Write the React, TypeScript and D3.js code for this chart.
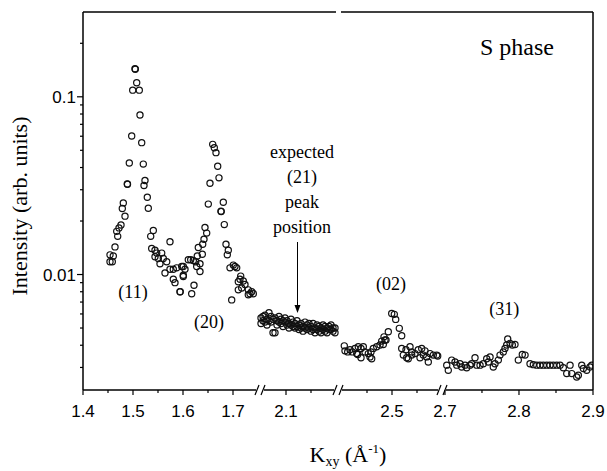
import React from 'react';
import * as d3 from 'd3';

// ---------- data (K_xy in Å^-1, intensity in arb. units) ----------
const peaks11and20: [number, number][] = [
  [1.454, 0.0129], [1.454, 0.0118], [1.4586, 0.0118], [1.4606, 0.0127], [1.464, 0.0143],
  [1.4674, 0.0175], [1.4694, 0.0164], [1.472, 0.0183], [1.476, 0.019], [1.4786, 0.0235],
  [1.4806, 0.0253], [1.484, 0.0213], [1.4886, 0.0323], [1.4890, 0.0322], [1.4926, 0.0424],
  [1.4974, 0.0602], [1.4994, 0.109], [1.504, 0.144], [1.5046, 0.143], [1.5074, 0.12],
  [1.5126, 0.109], [1.514, 0.079], [1.5174, 0.0552], [1.5206, 0.0418], [1.522, 0.0317],
  [1.524, 0.0338], [1.5286, 0.0272], [1.5306, 0.0236], [1.5354, 0.0164], [1.5406, 0.0177],
  [1.5374, 0.014], [1.544, 0.0137], [1.5474, 0.0132], [1.544, 0.0126], [1.5506, 0.0123],
  [1.5574, 0.0132], [1.554, 0.0115], [1.5606, 0.0123], [1.5674, 0.0118], [1.564, 0.0102],
  [1.574, 0.0153], [1.574, 0.0107], [1.5806, 0.0107], [1.5806, 0.0094], [1.584, 0.009],
  [1.5874, 0.0109], [1.594, 0.008], [1.5944, 0.0080], [1.5974, 0.0111], [1.6006, 0.0099],
  [1.6006, 0.0111], [1.604, 0.0107], [1.6006, 0.00975], [1.6106, 0.0121], [1.6154, 0.0121],
  [1.6206, 0.012], [1.6254, 0.0118], [1.634, 0.0115], [1.6274, 0.0111], [1.634, 0.0104],
  [1.622, 0.0087], [1.6174, 0.0078], [1.6286, 0.0127], [1.6386, 0.013], [1.6306, 0.0142],
  [1.6394, 0.0148], [1.642, 0.0158], [1.6474, 0.0171], [1.644, 0.0184], [1.6506, 0.0249],
  [1.654, 0.0326], [1.6594, 0.054], [1.6626, 0.0517], [1.666, 0.0485], [1.6694, 0.0407],
  [1.672, 0.035], [1.676, 0.0227], [1.6764, 0.0226], [1.6806, 0.0255], [1.6826, 0.0191],
  [1.686, 0.0148], [1.6906, 0.0137], [1.6886, 0.0129], [1.7006, 0.0113], [1.694, 0.0109],
  [1.704, 0.0111], [1.7074, 0.0109], [1.6974, 0.0072], [1.7106, 0.0082], [1.7106, 0.0091],
  [1.714, 0.0094], [1.7154, 0.0098], [1.7206, 0.0092], [1.7174, 0.0084], [1.724, 0.0088],
  [1.7306, 0.0082], [1.734, 0.0078], [1.7374, 0.008], [1.7306, 0.0077], [1.7406, 0.0078],
];

const region21: [number, number][] = [
  [2.050, 0.0057], [2.050, 0.0053], [2.054, 0.0055], [2.054, 0.0058], [2.058, 0.0054], [2.058, 0.0059],
  [2.062, 0.0056], [2.062, 0.0052], [2.066, 0.0061], [2.066, 0.0055], [2.070, 0.0058], [2.070, 0.0054],
  [2.074, 0.0047], [2.074, 0.0056], [2.078, 0.0047], [2.078, 0.0057], [2.082, 0.0055], [2.082, 0.0052],
  [2.086, 0.0058], [2.086, 0.0054], [2.090, 0.0053], [2.090, 0.0056], [2.094, 0.0055], [2.094, 0.0051],
  [2.098, 0.0054], [2.098, 0.0057], [2.102, 0.0052], [2.102, 0.0055], [2.106, 0.0053], [2.106, 0.0050],
  [2.110, 0.0056], [2.110, 0.0052], [2.114, 0.0051], [2.114, 0.0054], [2.118, 0.0053], [2.118, 0.0050],
  [2.122, 0.0055], [2.122, 0.0051], [2.126, 0.0052], [2.126, 0.0049], [2.130, 0.0053], [2.130, 0.0050],
  [2.134, 0.0051], [2.134, 0.0048], [2.138, 0.0054], [2.138, 0.0050], [2.142, 0.0052], [2.142, 0.0049],
  [2.146, 0.0050], [2.146, 0.0053], [2.150, 0.0051], [2.150, 0.0048], [2.154, 0.0053], [2.154, 0.0049],
  [2.158, 0.0050], [2.158, 0.0047], [2.162, 0.0052], [2.162, 0.0049], [2.166, 0.0048], [2.166, 0.0051],
  [2.170, 0.0050], [2.170, 0.0047], [2.174, 0.0052], [2.174, 0.0049], [2.178, 0.0048], [2.178, 0.0051],
  [2.182, 0.0050], [2.182, 0.0047], [2.186, 0.0051], [2.186, 0.0049], [2.190, 0.0049], [2.190, 0.0052],
  [2.194, 0.0048], [2.194, 0.0050], [2.198, 0.0047], [2.198, 0.0050],
];

const peak02: [number, number][] = [
  [2.4046, 0.00397], [2.406, 0.00372], [2.4114, 0.00367], [2.416, 0.00377], [2.4206, 0.00367],
  [2.426, 0.00384], [2.4294, 0.00359], [2.4314, 0.00355], [2.4326, 0.00392], [2.438, 0.00384],
  [2.438, 0.0034], [2.4426, 0.00392], [2.446, 0.00367], [2.4526, 0.00359], [2.456, 0.00344],
  [2.4594, 0.00336], [2.458, 0.00367], [2.4626, 0.00384], [2.4694, 0.00392], [2.476, 0.00401],
  [2.4794, 0.00422], [2.4826, 0.00404], [2.484, 0.00446], [2.486, 0.00428], [2.488, 0.00428],
  [2.4926, 0.00476], [2.4994, 0.00604], [2.5046, 0.00597], [2.5074, 0.00559], [2.5146, 0.00498],
  [2.5194, 0.00452], [2.5194, 0.00384], [2.5226, 0.00352], [2.528, 0.00377], [2.5294, 0.0034],
  [2.5326, 0.00336], [2.536, 0.00392], [2.5394, 0.00352], [2.5394, 0.00367], [2.546, 0.00359],
  [2.5526, 0.00377], [2.556, 0.0034], [2.5594, 0.00384], [2.5626, 0.00352], [2.566, 0.00372],
  [2.5694, 0.00344], [2.5726, 0.00322], [2.576, 0.00359], [2.5826, 0.00352], [2.5894, 0.00352],
  [2.5914, 0.00348],
];

const peak31: [number, number][] = [
  [2.7024, 0.00309], [2.7045, 0.00289], [2.7091, 0.0033], [2.7136, 0.00322], [2.7159, 0.00309],
  [2.7203, 0.00315], [2.7226, 0.00302], [2.7271, 0.00309], [2.7294, 0.00299], [2.7338, 0.00309],
  [2.7361, 0.00315], [2.7406, 0.0034], [2.7429, 0.00309], [2.7474, 0.00309], [2.7518, 0.00315],
  [2.7564, 0.00336], [2.7586, 0.00322], [2.7609, 0.00344], [2.7653, 0.00302], [2.7676, 0.00315],
  [2.7721, 0.0033], [2.7744, 0.00352], [2.7788, 0.00367], [2.7811, 0.00384], [2.7834, 0.00401],
  [2.7848, 0.00434], [2.7879, 0.0041], [2.791, 0.00401], [2.7946, 0.00404], [2.7991, 0.0033],
  [2.8045, 0.00355], [2.8082, 0.00352], [2.8149, 0.00315], [2.8194, 0.00311], [2.824, 0.00309],
  [2.8284, 0.00309], [2.8329, 0.00309], [2.8375, 0.00309], [2.8419, 0.00309], [2.8464, 0.00309],
  [2.851, 0.00309], [2.8555, 0.00309], [2.8599, 0.00299], [2.8645, 0.00277], [2.869, 0.00309],
  [2.8713, 0.00277], [2.878, 0.00265], [2.8802, 0.00271], [2.8848, 0.00309], [2.887, 0.00296],
  [2.8915, 0.00289], [2.896, 0.00302], [2.8983, 0.00309],
];

// broken x axis: segments of K_xy shown
const segmentDomains: [number, number][] = [[1.4, 1.754], [2.048, 2.204], [2.392, 2.6], [2.696, 2.9]];
const majorTicksX = [1.4, 1.5, 1.6, 1.7, 2.1, 2.5, 2.7, 2.8, 2.9];
const majorTickLabelsX = ['1.4', '1.5', '1.6', '1.7', '2.1', '2.5', '2.7', '2.8', '2.9'];
const minorTicksX = [1.45, 1.55, 1.65, 2.15, 2.45, 2.55, 2.75, 2.85];
const majorTicksY = [0.01, 0.1];
const majorTickLabelsY = ['0.01', '0.1'];
const yDomain: [number, number] = [0.00224, 0.3];
const peakLabels = ['(11)', '(20)', '(02)', '(31)'];
const peakLabelK = [1.5, 1.652, 2.498, 2.78];
const peakLabelI = [0.0074, 0.0050, 0.0082, 0.0059];
const annotationLines = ['expected', '(21)', 'peak', 'position'];
const arrowK = 2.123;

// ---------- layout ----------
const W = 607, H = 471;
const L = 83, R = 593, T = 12, B = 390;
const segmentRanges: [number, number][] = [[L, 260], [260, 338], [338, 442], [442, R]];
const SERIF = '"Liberation Serif", "Times New Roman", serif';
const SANS = '"Liberation Sans", Arial, sans-serif';

const segScales = segmentDomains.map((d, i) => d3.scaleLinear().domain(d).range(segmentRanges[i]));
function xPos(v: number): number {
  for (let i = 0; i < segmentDomains.length; i++) {
    const [a, b] = segmentDomains[i];
    if (v >= a - 1e-9 && v <= b + 1e-9) return segScales[i](v);
  }
  return NaN;
}
const y = d3.scaleLog().domain(yDomain).range([B, T]);

export default function App() {
  const allPts = [...peaks11and20, ...region21, ...peak02, ...peak31];
  const minorY: number[] = [];
  for (const dec of [0.001, 0.01, 0.1]) {
    for (let m = 2; m <= 9; m++) {
      const v = dec * m;
      if (v > yDomain[0] && v < yDomain[1] && !majorTicksY.includes(v)) minorY.push(v);
    }
  }
  const breaks = segmentRanges.slice(1).map((r) => r[0]);
  const gap = 4;
  const axisPieces: [number, number][] = [];
  let start = L;
  breaks.forEach((b) => { axisPieces.push([start, b - gap]); start = b + gap; });
  axisPieces.push([start, R]);
  const ax = xPos(arrowK);
  const annX = 302;

  return (
    <svg width={W} height={H} style={{ position: 'absolute', left: 0, top: 0, background: '#fff' }}>
      <defs>
        <clipPath id="plot"><rect x={L} y={T} width={R - L} height={B - T} /></clipPath>
      </defs>
      <rect x={0} y={0} width={W} height={H} fill="#fff" />
      <g clipPath="url(#plot)">
        {allPts.map((p, i) => (
          <circle key={i} cx={xPos(p[0])} cy={y(p[1])} r={3.1} fill="none" stroke="#111" strokeWidth={1.2} />
        ))}
      </g>
      <g stroke="#000" strokeWidth={1.5} fill="none">
        <line x1={L} y1={T} x2={L} y2={B} />
        <line x1={R} y1={T} x2={R} y2={B} />
        <line x1={L} y1={T} x2={breaks[1] - 2} y2={T} />
        <line x1={breaks[1] + 3} y1={T} x2={R} y2={T} />
        {axisPieces.map((p, i) => <line key={i} x1={p[0]} y1={B} x2={p[1]} y2={B} />)}
        {breaks.map((b, i) => (
          <g key={i} strokeWidth={1.2}>
            <line x1={b - 5} y1={B + 5} x2={b - 1} y2={B - 5} />
            <line x1={b + 1} y1={B + 5} x2={b + 5} y2={B - 5} />
          </g>
        ))}
      </g>
      <g stroke="#000" strokeWidth={1.2}>
        {majorTicksX.map((t, i) => <line key={'M' + i} x1={xPos(t)} x2={xPos(t)} y1={B} y2={B + 5} />)}
        {minorTicksX.map((t, i) => <line key={'m' + i} x1={xPos(t)} x2={xPos(t)} y1={B} y2={B + 3} />)}
        {majorTicksY.map((t, i) => <line key={'YM' + i} x1={L - 6} x2={L} y1={y(t)} y2={y(t)} />)}
        {minorY.map((t, i) => <line key={'Ym' + i} x1={L - 3} x2={L} y1={y(t)} y2={y(t)} />)}
      </g>
      <g fontFamily={SANS} fontSize={17} fill="#000">
        {majorTicksX.map((t, i) => (
          <text key={i} x={xPos(t)} y={B + 27} textAnchor="middle">{majorTickLabelsX[i]}</text>
        ))}
        {majorTicksY.map((t, i) => (
          <text key={i} x={L - 7} y={y(t)} dy="0.36em" textAnchor="end">{majorTickLabelsY[i]}</text>
        ))}
      </g>
      <text transform={`translate(27,${(T + B) / 2 + 5}) rotate(-90)`} textAnchor="middle" fontFamily={SERIF} fontSize={22}>
        Intensity (arb. units)
      </text>
      <text x={348} y={462} textAnchor="middle" fontFamily={SERIF} fontSize={22}>
        K<tspan fontSize={14} dy={4}>xy</tspan><tspan dy={-4}> (Å</tspan><tspan fontSize={13} dy={-9}>-1</tspan><tspan dy={9}>)</tspan>
      </text>
      <text x={517} y={55} textAnchor="middle" fontFamily={SERIF} fontSize={24}>S phase</text>
      <g fontFamily={SERIF} fontSize={18} textAnchor="middle">
        {peakLabels.map((s, i) => (
          <text key={i} x={xPos(peakLabelK[i])} y={y(peakLabelI[i])}>{s}</text>
        ))}
        {annotationLines.map((s, i) => (
          <text key={i} x={annX} y={158 + i * 25}>{s}</text>
        ))}
      </g>
      <line x1={ax} x2={ax} y1={242} y2={306} stroke="#000" strokeWidth={1} />
      <path d={`M${ax - 3},${305} L${ax + 3},${305} L${ax},${313} Z`} fill="#000" />
    </svg>
  );
}
